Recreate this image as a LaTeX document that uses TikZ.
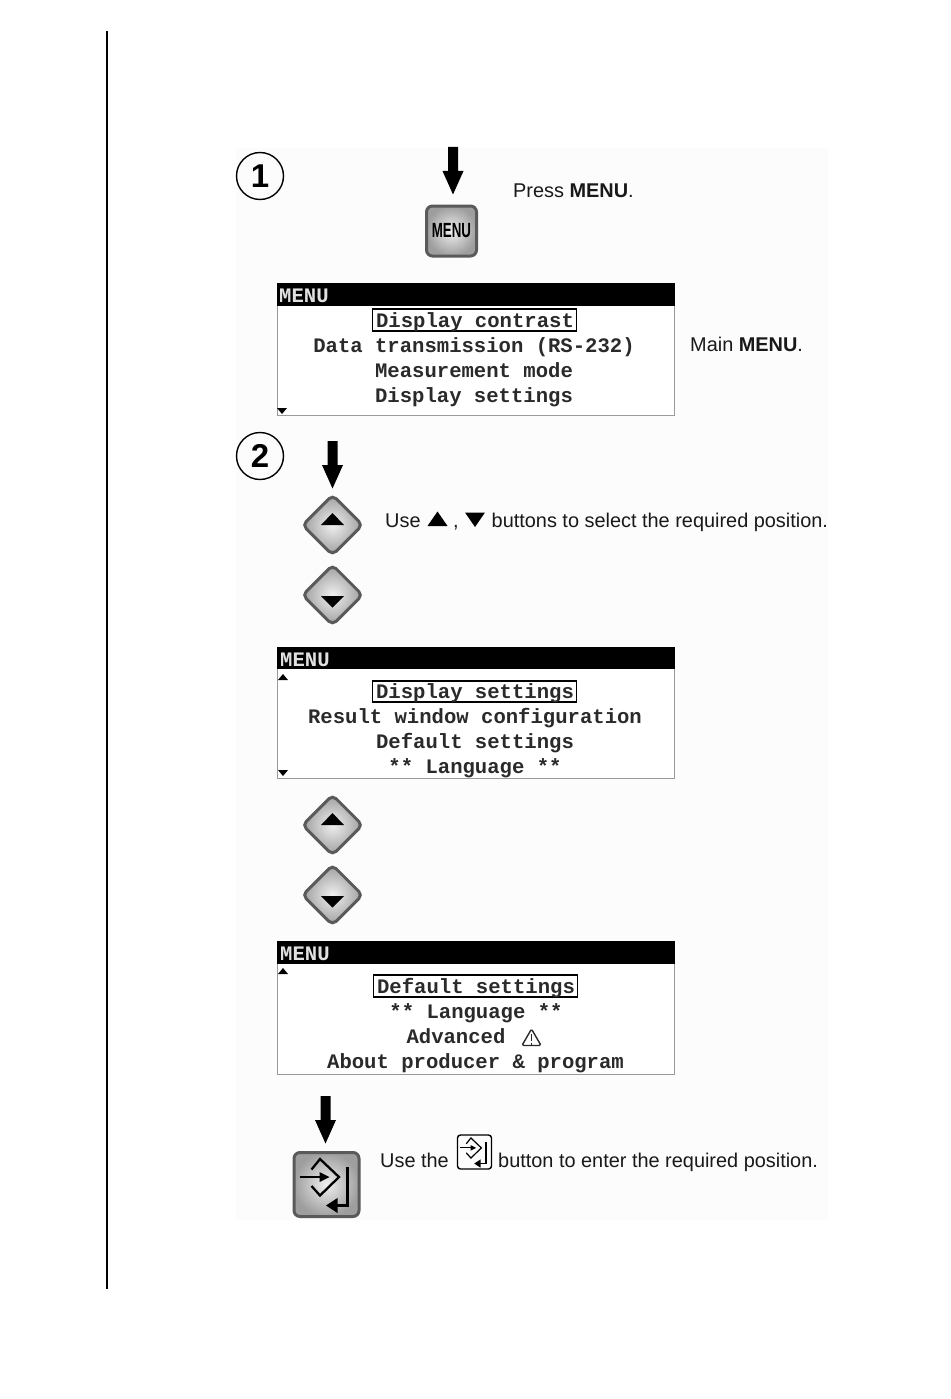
\documentclass[tikz,border=0pt]{standalone}
\usepackage{fontspec}
\setmainfont{Liberation Sans}
\newfontfamily\lcdfont{Liberation Mono}
\usetikzlibrary{shapes.geometric}
\definecolor{btnedge}{HTML}{5A5A5A}
\definecolor{lcdink}{HTML}{2A2A2A}
\definecolor{lcdedge}{HTML}{9A9A9A}
\definecolor{panelbg}{HTML}{FCFCFC}
\tikzset{
  x=1pt,y=-1pt,
  stepno/.style={circle,draw=black,line width=1.4pt,minimum size=47pt,inner sep=0pt,font=\fontsize{33}{33}\selectfont\bfseries},
  btnshade/.style={draw=btnedge,line width=3pt,inner color=white!88!gray,outer color=black!38},
  keybtn/.style={btnshade,rounded corners=6pt,inner sep=0pt},
  arrowbtn/.style={btnshade,diamond,aspect=1,rounded corners=5pt,minimum width=61pt,minimum height=61pt,inner sep=0pt},
  note/.style={anchor=base west,inner sep=0pt,font=\fontsize{19.9}{19.9}\selectfont,text=black!90},
  lcdframe/.style={draw=lcdedge,line width=0.8pt,fill=white,minimum width=397.5pt,inner sep=0pt},
  lcdbar/.style={fill=black,minimum width=397.5pt,inner sep=0pt},
  lcdline/.style={inner sep=0pt,text height=16pt,text depth=2pt,text=lcdink,font=\fontsize{20.6}{20.6}\lcdfont\bfseries\selectfont},
  lcdhead/.style={anchor=west,inner sep=0pt,text height=16pt,text depth=2pt,text=white!88!black,font=\fontsize{20.6}{20.6}\lcdfont\bfseries\selectfont},
  lcdsel/.style={draw=black,line width=1.7pt,minimum width=204pt,minimum height=21.5pt,inner sep=0pt},
}
\newcommand{\blockdown}[3]{% centre x, top y, name
  \coordinate (#3) at (#1,#2);
  \fill[black] ([shift={(-5,0)}]#3) -- ([shift={(5,0)}]#3) -- ([shift={(5,24)}]#3) -- ([shift={(10.5,24)}]#3)
    -- ([shift={(0,47.5)}]#3) -- ([shift={(-10.5,24)}]#3) -- ([shift={(-5,24)}]#3) -- cycle;}
\newcommand{\lcdup}[2]{\fill[black] (#1-5,#2+3) -- (#1,#2-3) -- (#1+5,#2+3) -- cycle;}
\newcommand{\lcddown}[2]{\fill[black] (#1-5,#2-3) -- (#1,#2+3) -- (#1+5,#2-3) -- cycle;}
\newcommand{\enterglyph}[3]{% centre name, scale, line width
  \begin{scope}[shift={(#1.center)},scale=#2,line width=#3]
    \draw[line join=miter] (-15,-15) -- (-6.5,-25.5) -- (12.5,-7.5) -- (-6.5,11) -- (-15,1.5);
    \draw (-27,-7.5) -- (-5,-7.5);
    \fill (3,-7.5) -- (-7,-12.5) -- (-7,-2.5) -- cycle;
    \draw (21,-17.5) -- (21,21) -- (6,21);
    \fill (-0.5,21) -- (11,13.5) -- (11,28.5) -- cycle;
  \end{scope}}
\begin{document}
\begin{tikzpicture}
\useasboundingbox (0,0) rectangle (950,1399);
\fill[white] (0,0) rectangle (950,1399);
\fill[panelbg] (236,148) rectangle (828,1220);
\draw[black,line width=1.8pt] (107,31) -- (107,1289);

% step 1
\node[stepno] (one) at (260,176) {1};
\blockdown{453}{147}{arrowmenu}
\node[keybtn,minimum width=50pt,minimum height=50pt] (menubtn) at (451.5,231) {\scalebox{0.65}[1]{\fontsize{20.5}{20.5}\selectfont\bfseries MENU}};
\node[note] (press) at (513,197) {Press \textbf{MENU}.};

% LCD 1
\node[lcdframe,minimum height=132pt] (lcda) at (475.75,349) {};
\node[lcdbar,minimum height=23pt] (bara) at (475.75,294.5) {};
\node[lcdhead] (heada) at (279,295) {MENU};
\node[lcdsel] (sela) at (474.5,320) {};
\node[lcdline] (a1) at (475,320) {Display contrast};
\node[lcdline] (a2) at (474,345) {Data transmission (RS-232)};
\node[lcdline] (a3) at (474,370) {Measurement mode};
\node[lcdline] (a4) at (474,395) {Display settings};
\lcddown{282}{411}
\node[note] (mainmenu) at (690,351) {Main \textbf{MENU}.};

% step 2
\node[stepno] (two) at (260,456) {2};
\blockdown{332.5}{441}{arrowup}
\node[arrowbtn] (upa) at (332.5,525) {};
\fill[black] ([shift={(-11.5,0)}]upa.center) -- ([shift={(0,-12)}]upa.center) -- ([shift={(11.5,0)}]upa.center) -- cycle;
\node[arrowbtn] (downa) at (332.5,595) {};
\fill[black] ([shift={(-11.5,1)}]downa.center) -- ([shift={(0,12.5)}]downa.center) -- ([shift={(11.5,1)}]downa.center) -- cycle;
\node[note] (use1) at (385,527) {Use};
\coordinate (tria) at (437.5,519);
\fill[black] ([shift={(-10,7)}]tria) -- ([shift={(0,-7.5)}]tria) -- ([shift={(10,7)}]tria) -- cycle;
\node[note] (comma) at (453,527) {,};
\coordinate (trib) at (475,519.5);
\fill[black] ([shift={(-10,-7)}]trib) -- ([shift={(0,7.5)}]trib) -- ([shift={(10,-7)}]trib) -- cycle;
\node[note] (use2) at (491.5,527) {buttons to select the required position.};

% LCD 2
\node[lcdframe,minimum height=131pt] (lcdb) at (475.75,712.5) {};
\node[lcdbar,minimum height=22pt] (barb) at (475.75,658) {};
\node[lcdhead] (headb) at (280,659) {MENU};
\node[lcdsel] (selb) at (474.5,691.5) {};
\node[lcdline] (b1) at (475,691) {Display settings};
\node[lcdline] (b2) at (475,716) {Result window configuration};
\node[lcdline] (b3) at (475,741) {Default settings};
\node[lcdline] (b4) at (475,766) {** Language **};
\lcdup{283}{677}
\lcddown{283}{773}

\node[arrowbtn] (upb) at (332.5,825) {};
\fill[black] ([shift={(-11.5,0)}]upb.center) -- ([shift={(0,-12)}]upb.center) -- ([shift={(11.5,0)}]upb.center) -- cycle;
\node[arrowbtn] (downb) at (332.5,895) {};
\fill[black] ([shift={(-11.5,1)}]downb.center) -- ([shift={(0,12.5)}]downb.center) -- ([shift={(11.5,1)}]downb.center) -- cycle;

% LCD 3
\node[lcdframe,minimum height=133pt] (lcdc) at (475.75,1007.5) {};
\node[lcdbar,minimum height=23pt] (barc) at (475.75,952.5) {};
\node[lcdhead] (headc) at (280,953) {MENU};
\node[lcdsel] (selc) at (475.5,986) {};
\node[lcdline] (c1) at (476,986) {Default settings};
\node[lcdline] (c2) at (476,1011) {** Language **};
\node[lcdline] (c3) at (456,1036) {Advanced};
\node[draw=lcdink,line width=1.4pt,regular polygon,regular polygon sides=3,minimum size=22pt,inner sep=0pt,rounded corners=1.5pt] (warn) at (531.5,1040) {};
\draw[lcdink,line width=1.4pt] (531.5,1034) -- (531.5,1041) (531.5,1043) -- (531.5,1044.5);
\node[lcdline] (c4) at (475.5,1061) {About producer \& program};
\lcdup{283}{971}

% enter
\blockdown{325.5}{1096}{arrowenter}
\node[keybtn,minimum width=65pt,minimum height=64pt] (enterbtn) at (326.5,1184.5) {};
\enterglyph{enterbtn}{1}{2.3pt}
\node[note] (use3) at (380,1167) {Use the};
\node[draw=black,line width=1.4pt,rounded corners=3pt,minimum size=34pt,inner sep=0pt] (entersmall) at (474.5,1152) {};
\enterglyph{entersmall}{0.55}{1.2pt}
\node[note] (use4) at (498,1167) {button to enter the required position.};
\end{tikzpicture}
\end{document}
